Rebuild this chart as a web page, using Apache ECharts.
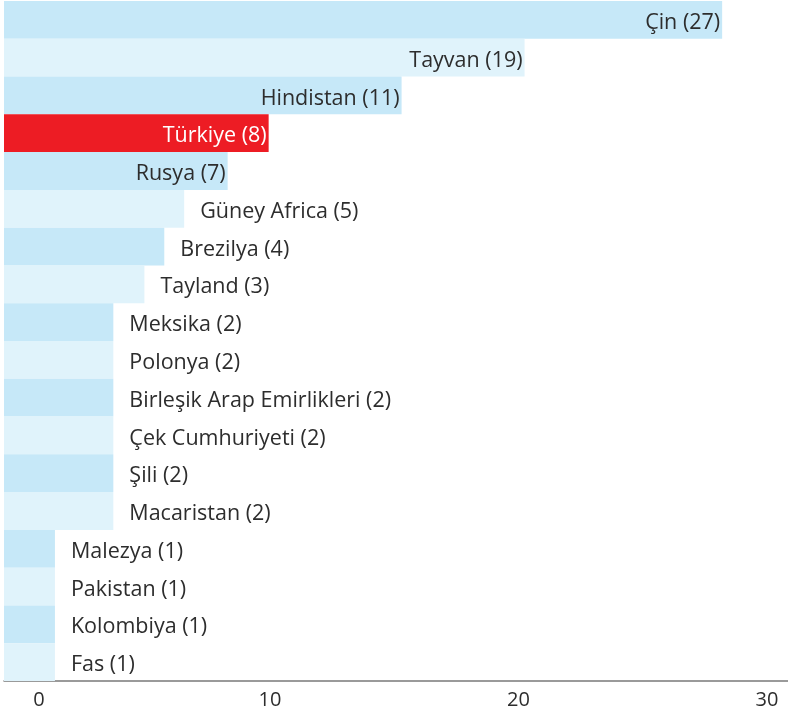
<!DOCTYPE html>
<html>
<head>
<meta charset="utf-8">
<script src="https://cdn.jsdelivr.net/npm/echarts@6/dist/echarts.min.js"></script>
<style>
html,body{margin:0;padding:0;background:#fff;}
#chart{width:788px;height:715px;}
</style>
</head>
<body>
<div id="chart"></div>
<script>
// Countries (top to bottom)
const countries = ['Çin','Tayvan','Hindistan','Türkiye','Rusya','Güney Africa','Brezilya','Tayland','Meksika','Polonya','Birleşik Arap Emirlikleri','Çek Cumhuriyeti','Şili','Macaristan','Malezya','Pakistan','Kolombiya','Fas'];
// Counts shown in labels
const counts = [27,19,11,8,7,5,4,3,2,2,2,2,2,2,1,1,1,1];
// Bar lengths as drawn in the picture (axis units)
const barLengths = [28.2,20.25,15.3,9.95,8.3,6.55,5.75,4.95,3.7,3.7,3.7,3.7,3.7,3.7,1.35,1.35,1.35,1.35];
// Highlighted country
const highlight = 'Türkiye';
// Axis tick labels
const tickValues = [0,10,20,30];

const AXIS_MIN = -0.7, AXIS_MAX = 30.85;
const DARK = '#c6e8f8', LIGHT = '#e0f3fb', RED = '#ed1c24', TXT = '#2d2d2d';
const FONT = 'Open Sans';
const FS = 21.5;

const chart = echarts.init(document.getElementById('chart'), null, {renderer:'canvas'});
const data = barLengths.map((v,i)=>[v,i]);

chart.setOption({
  animation:false,
  grid:{left:4,right:0,top:1,bottom:34,containLabel:false},
  xAxis:{
    type:'value', min:AXIS_MIN, max:AXIS_MAX,
    axisLine:{show:true,lineStyle:{color:'#7a7a7a',width:1.5}},
    axisTick:{show:false},
    splitLine:{show:false},
    axisLabel:{
      customValues:tickValues,
      margin:9,
      color:TXT, fontSize:20, fontFamily:FONT,
      formatter:function(v){ return v===0 ? '{z|0}' : String(v); },
      rich:{z:{padding:[0,0,0,35],color:TXT,fontSize:20,fontFamily:FONT}}
    }
  },
  yAxis:{
    type:'category', data:countries, inverse:true,
    axisLine:{show:false}, axisTick:{show:false}, axisLabel:{show:false}, splitLine:{show:false}
  },
  series:[{
    type:'custom',
    encode:{x:0,y:1},
    data:data,
    renderItem:function(params, api){
      const i = api.value(1);
      const v = api.value(0);
      const start = api.coord([AXIS_MIN, i]);
      const end = api.coord([v, i]);
      const h = api.size([0,1])[1];
      const name = countries[i];
      const isHi = name === highlight;
      const fill = isHi ? RED : (i % 2 === 0 ? DARK : LIGHT);
      const label = name + ' (' + counts[i] + ')';
      const inside = counts[i] >= 7;
      return {
        type:'group',
        children:[
          {type:'rect', shape:{x:start[0], y:start[1]-h/2, width:end[0]-start[0], height:h}, style:{fill:fill}},
          {type:'text', style:{
            text:label,
            x: inside ? end[0]-2 : end[0]+16,
            y: start[1]+3,
            align: inside ? 'right' : 'left',
            verticalAlign:'middle',
            fill: isHi ? '#ffffff' : TXT,
            font: FS + 'px "' + FONT + '"'
          }}
        ]
      };
    }
  }]
});
</script>
</body>
</html>
